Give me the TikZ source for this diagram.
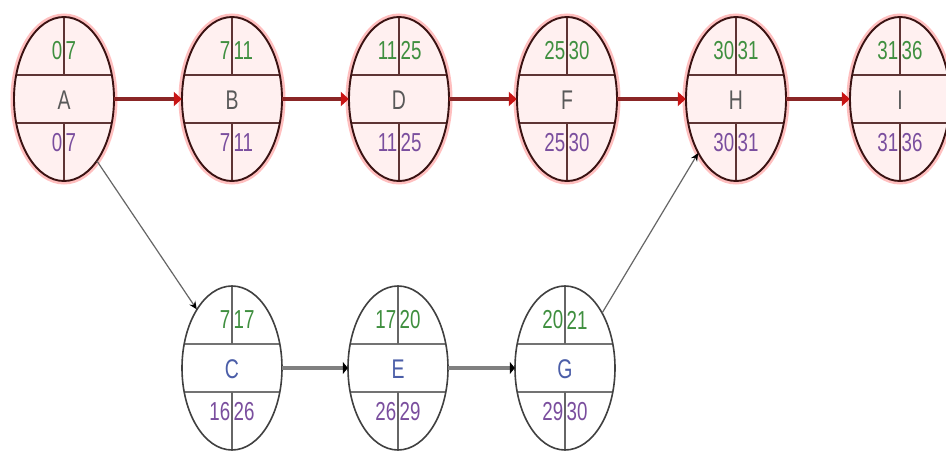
\documentclass[tikz,border=0pt]{standalone}
\usepackage{fontspec}
\setmainfont{Liberation Sans}
\newfontfamily\narrowfont[FakeStretch=0.72]{Liberation Sans}
\usetikzlibrary{shapes.geometric,arrows.meta}
\definecolor{numgreen}{HTML}{3F8F3F}
\definecolor{numpurple}{HTML}{7A4E9E}
\definecolor{critborder}{HTML}{3A1212}
\definecolor{critdiv}{HTML}{5E3434}
\definecolor{critline}{HTML}{8A2626}
\definecolor{crittip}{HTML}{C81414}
\definecolor{normletter}{HTML}{4B5EA8}
\newcommand{\evnode}[9]{%
  % #1 name, #2 x, #3 y, #4 kind, #5 letter, #6 tl, #7 tr, #8 bl, #9 br
  \node[#4box] (#1) at (#2,#3) {};
  \begin{scope}
    \clip (#2,#3) ellipse (50 and 82);
    \draw[#4hdiv] ({#2-60},{#3-24}) -- ({#2+60},{#3-24});
    \draw[#4hdiv] ({#2-60},{#3+24}) -- ({#2+60},{#3+24});
    \draw[#4vdiv] (#2,{#3-90}) -- (#2,{#3-24});
    \draw[#4vdiv] (#2,{#3+24}) -- (#2,{#3+90});
  \end{scope}
  \draw[#4border] (#2,#3) ellipse (50 and 82);
  \node[#4letter] at (#2,{#3+1}) {#5};
  \node[numtxt, numgreen, anchor=east] at ({#2-1.5},{#3-48}) {#6};
  \node[numtxt, numgreen, anchor=west] at ({#2+1.5},{#3-48}) {#7};
  \node[numtxt, numpurple, anchor=east] at ({#2-1.5},{#3+44}) {#8};
  \node[numtxt, numpurple, anchor=west] at ({#2+1.5},{#3+44}) {#9};
}
\begin{document}
\begin{tikzpicture}[x=1pt,y=-1pt,
  numtxt/.style={inner sep=0pt, font=\narrowfont\fontsize{26}{26}\selectfont},
  critbox/.style={ellipse, minimum width=100pt, minimum height=164pt, inner sep=0pt,
    fill=red!6, preaction={draw=red!25, line width=7pt}},
  normbox/.style={ellipse, minimum width=100pt, minimum height=164pt, inner sep=0pt, fill=white},
  crithdiv/.style={draw=critdiv, line width=1.7pt},
  critvdiv/.style={draw=critdiv, line width=1.4pt},
  normhdiv/.style={draw=black!55, line width=2.8pt},
  normvdiv/.style={draw=black!60, line width=1.2pt},
  critborder/.style={draw=critborder, line width=1.9pt},
  normborder/.style={draw=black!75, line width=1.6pt},
  critletter/.style={inner sep=0pt, text=black!65, font=\narrowfont\fontsize{27}{27}\selectfont},
  normletter/.style={inner sep=0pt, text=normletter, font=\narrowfont\fontsize{27}{27}\selectfont},
  critarrow/.style={draw=critline, line width=3.4pt,
    -{Triangle[length=8pt,width=14pt,fill=crittip,color=crittip]}},
  normarrow/.style={draw=black!50, line width=4.5pt,
    -{Triangle[length=5pt,width=12pt,fill=black,color=black]}},
  thinarrow/.style={draw=black!60, line width=1.2pt,
    -{Stealth[length=8pt,width=7pt,fill=black,color=black]}}]
\useasboundingbox (0,0) rectangle (946,453);
\fill[white] (0,0) rectangle (946,453);
\evnode{A}{64}{99}{crit}{A}{0}{7}{0}{7}
\evnode{B}{232}{99}{crit}{B}{7}{11}{7}{11}
\evnode{D}{399}{99}{crit}{D}{11}{25}{11}{25}
\evnode{F}{567}{99}{crit}{F}{25}{30}{25}{30}
\evnode{H}{736}{99}{crit}{H}{30}{31}{30}{31}
\evnode{I}{900}{99}{crit}{I}{31}{36}{31}{36}
\evnode{C}{232}{368}{norm}{C}{7}{17}{16}{26}
\evnode{E}{398}{368}{norm}{E}{17}{20}{26}{29}
\evnode{G}{565}{368}{norm}{G}{20}{21}{29}{30}
\draw[critarrow] (A) -- (B);
\draw[critarrow] (B) -- (D);
\draw[critarrow] (D) -- (F);
\draw[critarrow] (F) -- (H);
\draw[critarrow] (H) -- (I);
\draw[normarrow] (C) -- (E);
\draw[normarrow] (E) -- (G);
\draw[thinarrow] (A.-62) -- (C.121);
\draw[thinarrow] (G.56) -- (H.235);
\end{tikzpicture}
\end{document}
